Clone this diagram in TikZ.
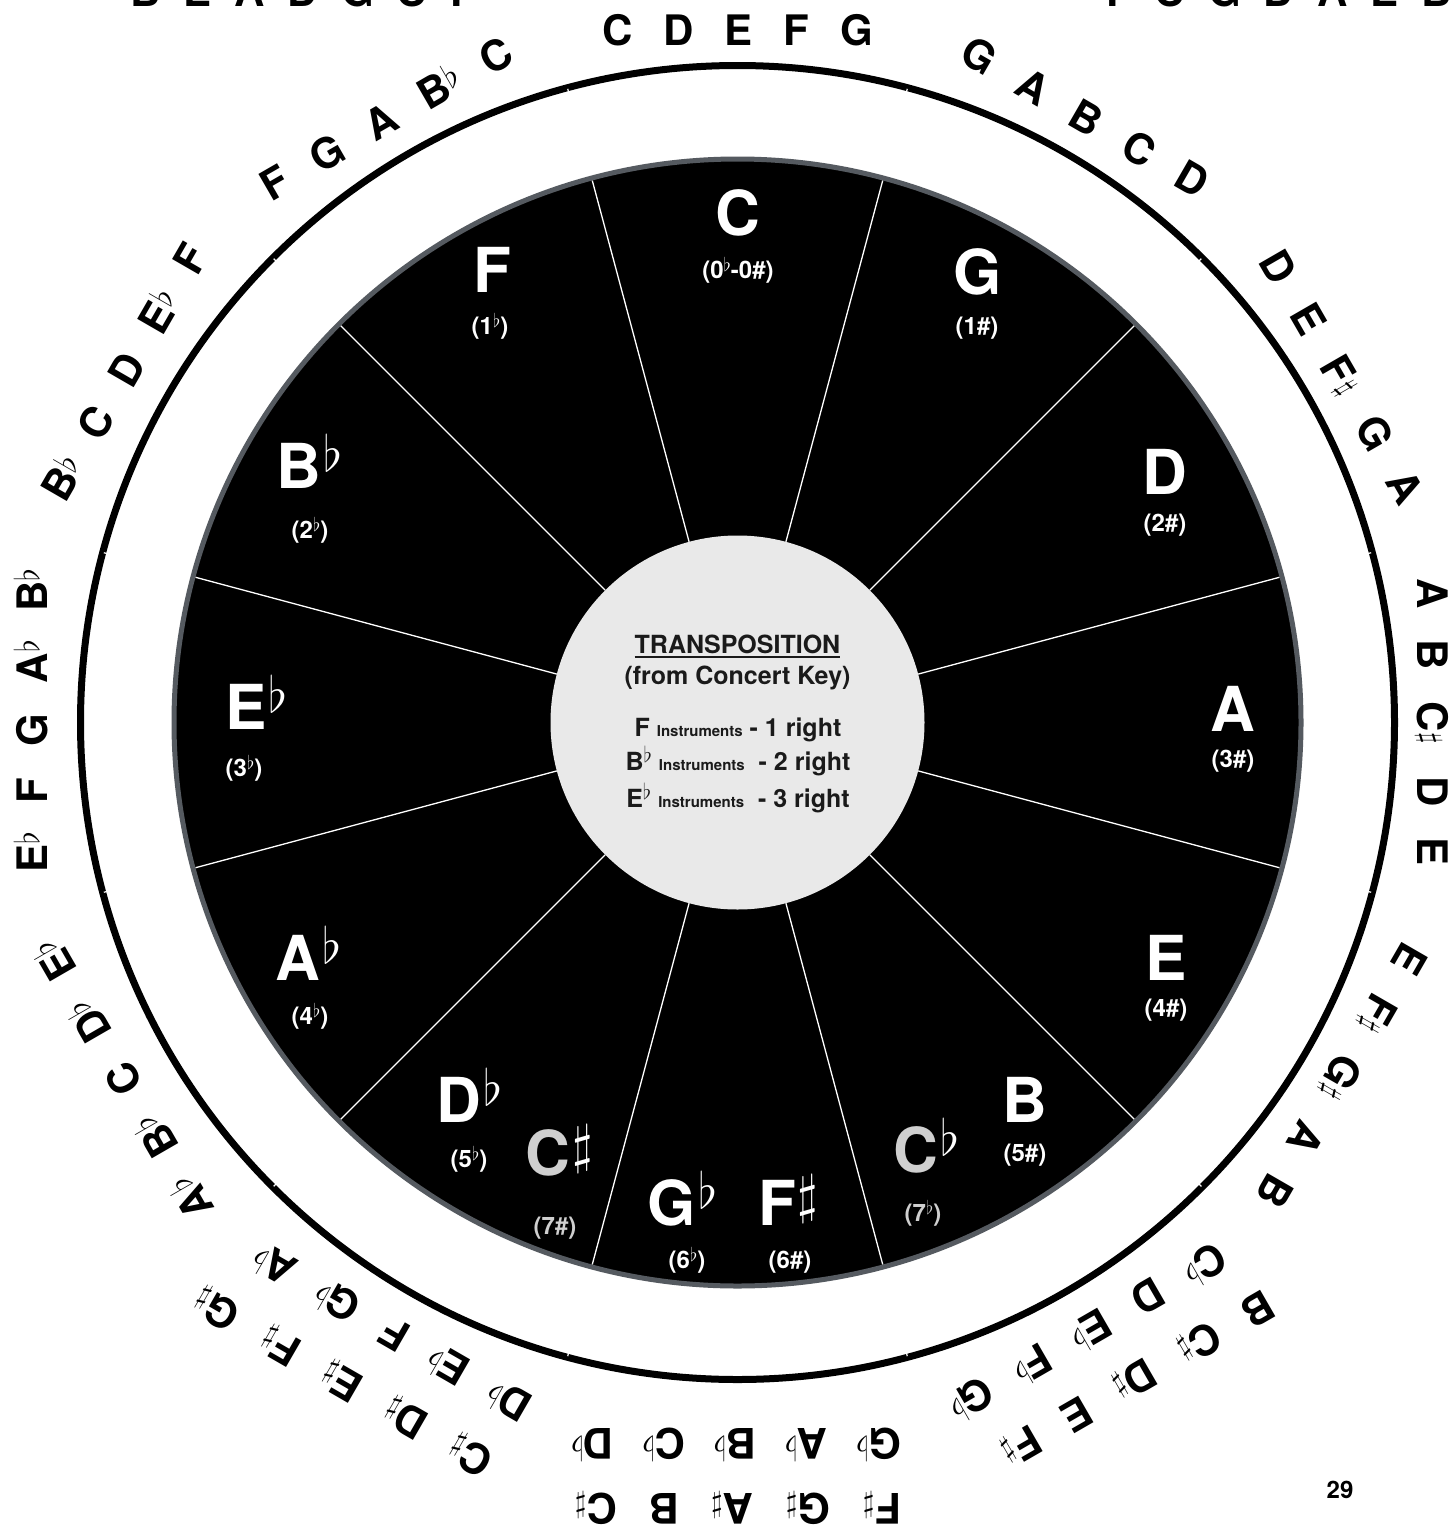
\documentclass[tikz,border=0pt]{standalone}
\usepackage{fix-cm}
\usepackage{fontspec}
\setmainfont{TeX Gyre Heros}
\usepackage{graphicx}
\definecolor{edgegray}{HTML}{555A60}
\definecolor{hubgray}{HTML}{E9E9E9}
\definecolor{dimgray}{HTML}{CFCFCF}
\definecolor{inktext}{HTML}{1A1A1A}
\newcommand\acc[3]{\raisebox{#2}{\fontsize{#1}{#1}\selectfont$#3$}}
\newcommand\ofl{\acc{34}{8pt}{\flat}\kern-3pt}
\newcommand\osh{\kern1pt\acc{30}{4pt}{\sharp}\kern1pt}
\newcommand\bfl{\kern2pt\acc{50}{17pt}{\flat}}
\newcommand\bsh{\kern2pt\acc{54}{13pt}{\sharp}}
\newcommand\cfl{\acc{19}{7pt}{\flat}}
\newcommand\tfl{\acc{22}{8pt}{\flat}}
\newcommand\gp{\hspace{31pt}}
\newcommand\cg{\hspace{23pt}}
\newcommand\instr{{\fontsize{15}{15}\selectfont Instruments}}
\tikzset{
  ringtxt/.style={font=\fontsize{42}{42}\selectfont\bfseries, text height=30pt, text depth=0pt, inner sep=0pt},
  cuttxt/.style={font=\fontsize{42}{42}\selectfont\bfseries, inner sep=0pt, anchor=base},
  keyname/.style={font=\fontsize{62}{62}\selectfont\bfseries, text=white, text height=44pt, text depth=0pt, inner sep=0pt},
  cnt/.style={font=\fontsize{24}{24}\selectfont\bfseries, text=white, text height=17.5pt, text depth=5pt, inner sep=0pt},
  cntdim/.style={cnt, text=dimgray},
  hubtxt/.style={font=\fontsize{25}{25}\selectfont\bfseries, text=inktext, text height=18pt, text depth=0pt, inner sep=0pt},
  divider/.style={white, line width=1.3pt},
  ringtick/.style={white, line width=1.2pt},
}
\begin{document}
\begin{tikzpicture}[x=1pt,y=-1pt]
\useasboundingbox[fill=white] (0,0) rectangle (1450,1529);
\coordinate (O) at (737.5,722.5);
% disk, ring, hub
\draw[edgegray, line width=5pt, fill=black] (O) circle[radius=563.5pt];
\draw[black, line width=7pt] (O) circle[radius=657pt];
\foreach \a in {15,45,...,345}{
  \draw[divider] ([shift={(O)}]{-\a}:187) -- ([shift={(O)}]{-\a}:561);
  \draw[ringtick] ([shift={(O)}]{-\a}:652.5) -- ([shift={(O)}]{-\a}:656);
}
\fill[hubgray] (O) circle[radius=187pt];
% hub text
\node[hubtxt] (t1) at (737.5,644) {TRANSPOSITION};
\draw[inktext, line width=1.6pt] ([yshift=-3.5pt]t1.south west) -- ([yshift=-3.5pt]t1.south east);
\node[hubtxt] (t2) at (737.5,675) {(from Concert Key)};
\node[hubtxt] (t3) at (738,727.5) {F \instr\ - 1 right};
\node[hubtxt] (t4) at (738,761.5) {B\tfl\ \instr\ \ - 2 right};
\node[hubtxt] (t5) at (738,798.5) {E\tfl\ \instr\ \ - 3 right};
% sector keys
\node[keyname] (kC) at (738,213) {C};
\node[cnt] (nC) at (738,272) {(0\cfl-0\#)};
\node[keyname] (kG) at (977.5,272.5) {G};
\node[cnt] (nG) at (977,328.5) {(1\#)};
\node[keyname] (kD) at (1165,472) {D};
\node[cnt] (nD) at (1165,525) {(2\#)};
\node[keyname] (kA) at (1233,709) {A};
\node[cnt] (nA) at (1233,761) {(3\#)};
\node[keyname] (kE) at (1166,958) {E};
\node[cnt] (nE) at (1166,1010) {(4\#)};
\node[keyname] (kB) at (1025,1100) {B};
\node[cnt] (nB) at (1025,1155) {(5\#)};
\node[keyname] (kCb) at (916,1150) {\textcolor{dimgray}{C}\rlap{\bfl}};
\node[cntdim] (nCb) at (923,1215) {(7\cfl)};
\node[keyname] (kFs) at (777,1203) {F\rlap{\bsh}};
\node[cnt] (nFs) at (790,1262) {(6\#)};
\node[keyname] (kGb) at (672,1203) {G\rlap{\bfl}};
\node[cnt] (nGb) at (687,1262) {(6\cfl)};
\node[keyname] (kCs) at (548,1153) {\textcolor{dimgray}{C}\rlap{\bsh}};
\node[cntdim] (nCs) at (555,1228) {(7\#)};
\node[keyname] (kDb) at (459,1100) {D\rlap{\bfl}};
\node[cnt] (nDb) at (469,1161) {(5\cfl)};
\node[keyname] (kAb) at (298,958) {A\rlap{\bfl}};
\node[cnt] (nAb) at (310,1018) {(4\cfl)};
\node[keyname] (kEb) at (246,707) {E\rlap{\bfl}};
\node[cnt] (nEb) at (244,770) {(3\cfl)};
\node[keyname] (kBb) at (299,466) {B\rlap{\bfl}};
\node[cnt] (nBb) at (310,532) {(2\cfl)};
\node[keyname] (kF) at (492,270) {F};
\node[cnt] (nF) at (490,328) {(1\cfl)};
% outer scales
\node[ringtxt, rotate=0] (r90) at (737.5,30) {C\gp D\gp E\gp F\gp G};
\node[ringtxt, rotate=-30] (r60) at (1085,117.5) {G\gp A\gp B\gp C\gp D};
\node[ringtxt, rotate=-60] (r30) at (1342,377.5) {D\gp E\gp F\osh\gp G\gp A};
\node[ringtxt, rotate=-90] (r0) at (1432,722) {A\gp B\gp C\osh\gp D\gp E};
\node[ringtxt, rotate=-120] (rm30) at (1342,1075.5) {E\gp F\osh\gp G\osh\gp A\gp B};
\node[ringtxt, rotate=-150] (rm60a) at (1088,1331) {C\ofl\gp D\gp E\ofl\gp F\ofl\gp G\ofl};
\node[ringtxt, rotate=-150] (rm60b) at (1137.5,1379) {B\gp C\osh\gp D\osh\gp E\gp F\osh};
\node[ringtxt, rotate=180] (rm90a) at (737.5,1443) {G\ofl\gp A\ofl\gp B\ofl\gp C\ofl\gp D\ofl};
\node[ringtxt, rotate=180] (rm90b) at (737.5,1508) {F\osh\gp G\osh\gp A\osh\gp B\gp C\osh};
\node[ringtxt, rotate=150] (rm120a) at (393,1332.5) {D\ofl\gp E\ofl\gp F\gp G\ofl\gp A\ofl};
\node[ringtxt, rotate=150] (rm120b) at (342.5,1381.5) {C\osh\gp D\osh\gp E\osh\gp F\osh\gp G\osh};
\node[ringtxt, rotate=120] (rm150) at (124.5,1080) {A\ofl\gp B\ofl\gp C\gp D\ofl\gp E\ofl};
\node[ringtxt, rotate=90] (r180) at (32,722) {E\ofl\gp F\gp G\gp A\ofl\gp B\ofl};
\node[ringtxt, rotate=60] (r150) at (125,372.5) {B\ofl\gp C\gp D\gp E\ofl\gp F};
\node[ringtxt, rotate=30] (r120) at (386.5,119) {F\gp G\gp A\gp B\ofl\gp C};
% cut-off rows at the top edge
\node[cuttxt] (cutL) at (303,6) {B\cg E\cg A\cg D\cg G\cg C\cg F};
\node[cuttxt] (cutR) at (1279,6) {F\cg C\cg G\cg D\cg A\cg E\cg B};
% page number
\node[font=\fontsize{24}{24}\selectfont\bfseries, inner sep=0pt] (pg) at (1340,1490) {29};
\end{tikzpicture}
\end{document}
